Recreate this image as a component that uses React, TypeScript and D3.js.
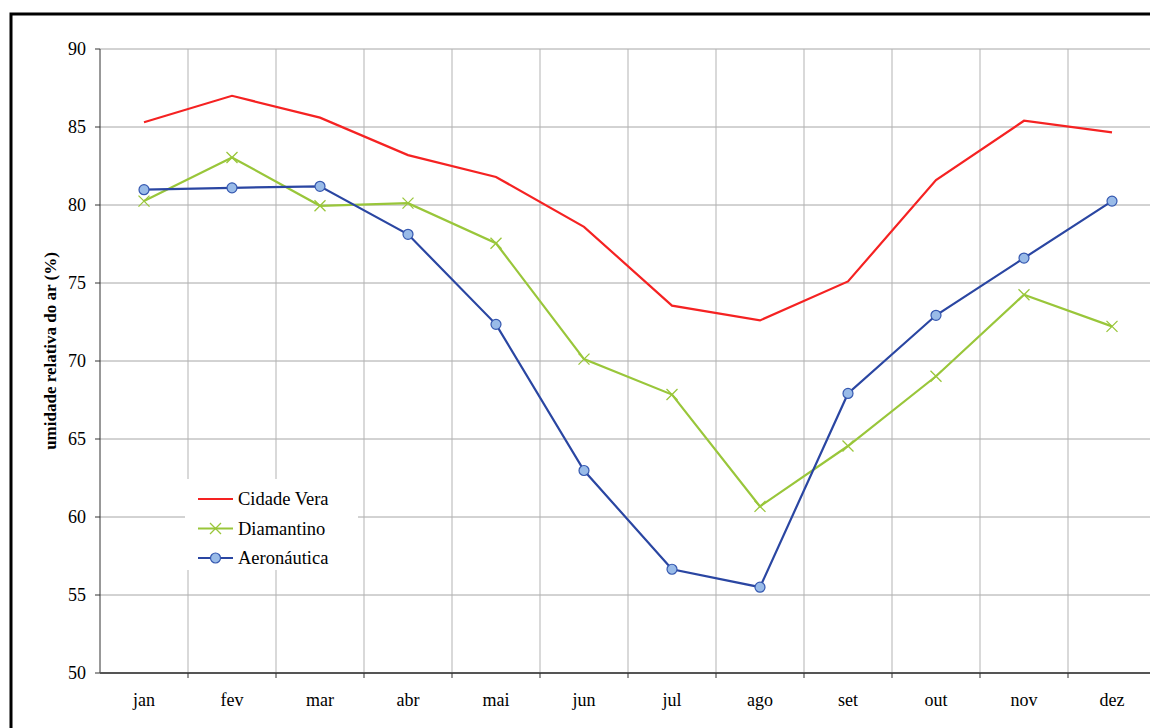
import React from "react";
import * as d3 from "d3";

const months = ["jan", "fev", "mar", "abr", "mai", "jun", "jul", "ago", "set", "out", "nov", "dez"];
const cidadeVera = [85.3, 87.0, 85.6, 83.2, 81.8, 78.6, 73.55, 72.6, 75.1, 81.6, 85.4, 84.65];
const diamantino = [80.25, 83.05, 79.95, 80.12, 77.55, 70.12, 67.85, 60.68, 64.55, 69.02, 74.25, 72.22];
const aeronautica = [80.98, 81.1, 81.2, 78.12, 72.35, 62.98, 56.65, 55.5, 67.92, 72.93, 76.6, 80.25];
const yTicks = [50, 55, 60, 65, 70, 75, 80, 85, 90];

const series = [
  { name: "Cidade Vera", values: cidadeVera, color: "#f52222", marker: "none" },
  { name: "Diamantino", values: diamantino, color: "#99c63a", marker: "x" },
  { name: "Aeronáutica", values: aeronautica, color: "#2a46a2", marker: "circle" },
];

const W = 1150;
const H = 728;
const FONT = "'Liberation Serif', 'Times New Roman', serif";

export default function App() {
  const x = d3.scaleBand<string>().domain(months).range([100, 1156]).padding(0);
  const y = d3.scaleLinear().domain([50, 90]).range([673, 49]);
  const cx = (m: string) => (x(m) as number) + x.bandwidth() / 2;
  const line = d3
    .line<number>()
    .x((_, i) => cx(months[i]))
    .y((d) => y(d));

  const markerEl = (kind: string, px: number, py: number, color: string, key: string) => {
    if (kind === "circle") {
      return <circle key={key} cx={px} cy={py} r={5} fill="#99bbe8" stroke="#3558b0" strokeWidth={1.2} />;
    }
    if (kind === "x") {
      const s = 5.5;
      return (
        <path
          key={key}
          d={`M${px - s},${py - s}L${px + s},${py + s}M${px - s},${py + s}L${px + s},${py - s}`}
          stroke={color}
          strokeWidth={1.3}
          fill="none"
        />
      );
    }
    return null;
  };

  const gridXs = months.map((m) => x(m) as number).slice(1).concat([1156]);

  return (
    <svg width={W} height={H} style={{ position: "absolute", left: 0, top: 0, background: "#fff" }} fontFamily={FONT}>
      <rect x={0} y={0} width={W} height={H} fill="#fff" />
      {/* outer frame */}
      <rect x={11} y={14} width={1170} height={740} fill="none" stroke="#000" strokeWidth={3} />

      {/* horizontal gridlines */}
      {yTicks.map((t) => (
        <line key={"h" + t} x1={100} x2={1160} y1={y(t)} y2={y(t)} stroke="#a6a6a6" strokeWidth={1} />
      ))}
      {/* vertical gridlines */}
      {gridXs.map((gx, i) => (
        <line key={"v" + i} x1={gx} x2={gx} y1={y(90)} y2={y(50)} stroke="#b3b3b3" strokeWidth={1} />
      ))}

      {/* y axis */}
      <line x1={100} x2={100} y1={y(90)} y2={y(50)} stroke="#333" strokeWidth={1} />
      {yTicks.map((t) => (
        <g key={"yt" + t}>
          <line x1={95} x2={100} y1={y(t)} y2={y(t)} stroke="#333" strokeWidth={1} />
          <text x={86} y={y(t)} dy="0.35em" textAnchor="end" fontSize={18} fill="#000">
            {t}
          </text>
        </g>
      ))}

      {/* x axis */}
      <line x1={100} x2={1160} y1={y(50)} y2={y(50)} stroke="#555" strokeWidth={2} />
      {gridXs.map((gx, i) => (
        <line key={"xt" + i} x1={gx} x2={gx} y1={y(50)} y2={y(50) + 5} stroke="#333" strokeWidth={1} />
      ))}
      {months.map((m) => (
        <text key={"xl" + m} x={cx(m)} y={706} textAnchor="middle" fontSize={18} fill="#000">
          {m}
        </text>
      ))}

      {/* y axis title */}
      <text
        transform={`translate(56,351) rotate(-90)`}
        textAnchor="middle"
        fontSize={17}
        fontWeight="bold"
        fill="#000"
      >
        umidade relativa do ar (%)
      </text>

      {/* series */}
      {series.map((s) => (
        <g key={s.name}>
          <path d={line(s.values) || ""} fill="none" stroke={s.color} strokeWidth={2.2} />
          {s.values.map((v, i) => markerEl(s.marker, cx(months[i]), y(v), s.color, s.name + i))}
        </g>
      ))}

      {/* legend */}
      <rect x={185} y={479} width={173} height={91} fill="#fff" />
      {series.map((s, i) => {
        const ly = 499 + i * 29.5;
        return (
          <g key={"lg" + s.name}>
            <line x1={198} x2={233} y1={ly} y2={ly} stroke={s.color} strokeWidth={2.2} />
            {markerEl(s.marker, 215.5, ly, s.color, "lm" + i)}
            <text x={238} y={ly} dy="0.35em" fontSize={18.5} fill="#000">
              {s.name}
            </text>
          </g>
        );
      })}
    </svg>
  );
}
